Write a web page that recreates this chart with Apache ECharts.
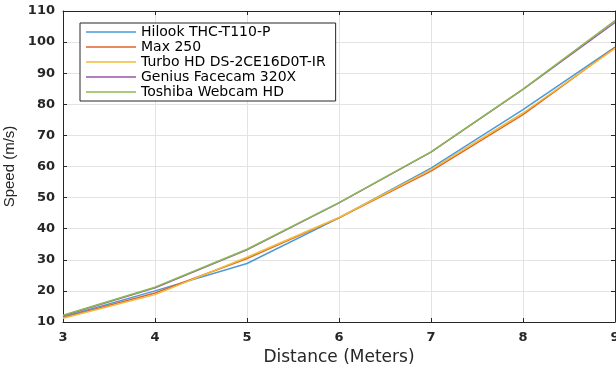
<!DOCTYPE html>
<html>
<head>
<meta charset="utf-8">
<script src="https://cdn.jsdelivr.net/npm/echarts@6/dist/echarts.min.js"></script>
<style>html,body{margin:0;padding:0;background:#fff}#c{width:616px;height:365px}</style>
</head>
<body>
<div id="c"></div>
<script>
var distances = [3, 4, 5, 6, 7, 8, 9];
var seriesNames = ['Hilook THC-T110-P', 'Max 250', 'Turbo HD DS-2CE16D0T-IR', 'Genius Facecam 320X', 'Toshiba Webcam HD'];
var hilook = [11.6, 20.0, 28.8, 43.5, 59.5, 78.3, 98.4];
var max250 = [11.4, 19.3, 30.4, 43.5, 58.5, 76.7, 98.2];
var turbo = [11.2, 18.8, 30.8, 43.6, 59.0, 77.2, 98.0];
var genius = [12.0, 21.0, 33.2, 48.3, 64.6, 84.8, 106.3];
var toshiba = [12.2, 21.2, 33.4, 48.4, 64.7, 84.9, 106.9];
var colors = ['#4a9ad6', '#e2622a', '#f0bb3a', '#9b55ad', '#8abb4e'];

var allData = [hilook, max250, turbo, genius, toshiba];
var font = '"DejaVu Sans", sans-serif';
var font2 = '"Liberation Sans", Arial, sans-serif';
var axisCol = '#262626';

var chart = echarts.init(document.getElementById('c'), null, {renderer: 'canvas'});
var series = allData.map(function (d, i) {
  return {
    name: seriesNames[i],
    type: 'line',
    data: distances.map(function (x, j) { return [x, d[j]]; }),
    showSymbol: false,
    symbol: 'none',
    lineStyle: {width: 1.5, color: colors[i]},
    itemStyle: {color: colors[i]},
    z: 2 + i
  };
});
chart.setOption({
  animation: false,
  color: colors,
  grid: {left: 63, right: 1, top: 11, bottom: 43, containLabel: false, outerBoundsMode: 'none'},
  legend: {
    orient: 'vertical', left: 80, top: 23,
    icon: 'rect', itemWidth: 50, itemHeight: 1.5, itemGap: 1,
    padding: [2, 10, 2, 6],
    backgroundColor: '#fff', borderColor: axisCol, borderWidth: 1,
    textStyle: {fontFamily: font, fontSize: 14, color: '#000', lineHeight: 14},
    data: seriesNames
  },
  xAxis: [{
    type: 'value', min: 3, max: 9, interval: 1,
    name: 'Distance (Meters)', nameLocation: 'middle', nameGap: 27,
    nameTextStyle: {fontFamily: font, fontSize: 17, color: axisCol},
    axisLine: {show: true, lineStyle: {color: axisCol, width: 1}},
    axisTick: {show: true, inside: true, length: 4, lineStyle: {color: axisCol}},
    axisLabel: {fontFamily: font, fontSize: 13, fontWeight: 'bold', color: axisCol, margin: 9},
    splitLine: {show: true, lineStyle: {color: '#e3e3e3', width: 1}}
  }, {
    type: 'value', min: 3, max: 9, interval: 1, position: 'top',
    axisLine: {show: true, onZero: false, lineStyle: {color: axisCol, width: 1}},
    axisTick: {show: true, inside: true, length: 4, lineStyle: {color: axisCol}},
    axisLabel: {show: false}, splitLine: {show: false}
  }],
  yAxis: [{
    type: 'value', min: 10, max: 110, interval: 10,
    name: 'Speed (m/s)', nameLocation: 'middle', nameGap: 44,
    nameTextStyle: {fontFamily: font2, fontSize: 15, color: axisCol},
    axisLine: {show: true, lineStyle: {color: axisCol, width: 1}},
    axisTick: {show: true, inside: true, length: 4, lineStyle: {color: axisCol}},
    axisLabel: {fontFamily: font, fontSize: 13, fontWeight: 'bold', color: axisCol, margin: 8},
    splitLine: {show: true, lineStyle: {color: '#e3e3e3', width: 1}}
  }, {
    type: 'value', min: 10, max: 110, interval: 10, position: 'right',
    axisLine: {show: true, onZero: false, lineStyle: {color: axisCol, width: 1}},
    axisTick: {show: true, inside: true, length: 4, lineStyle: {color: axisCol}},
    axisLabel: {show: false}, splitLine: {show: false}
  }],
  series: series
});
</script>
</body>
</html>
